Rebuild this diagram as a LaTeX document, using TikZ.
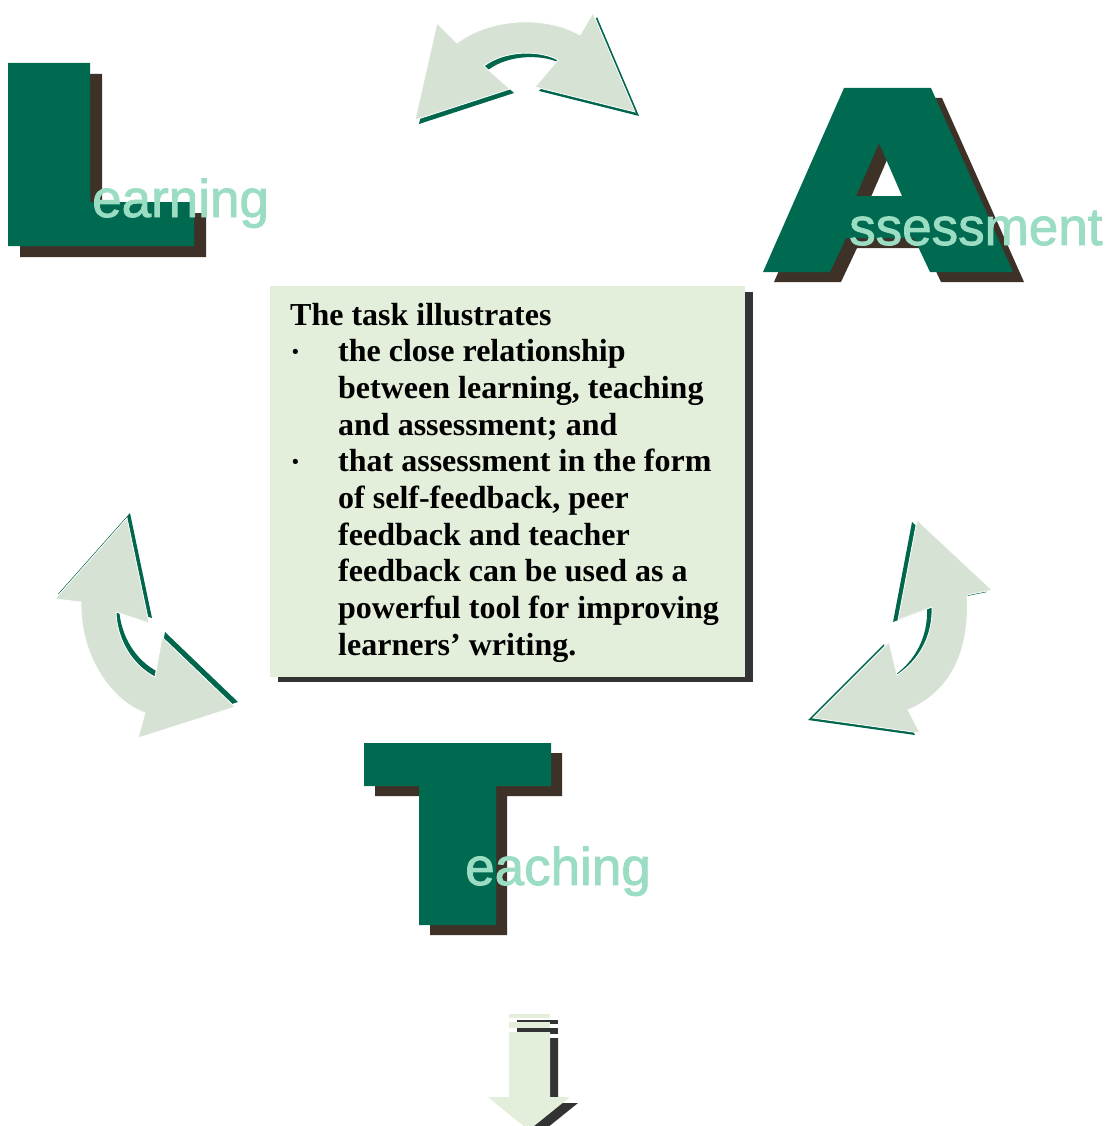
\documentclass[tikz,border=0pt]{standalone}
\usepackage{fontspec}
\newfontfamily\wordfont[FakeBold=1.6]{Liberation Sans}
\newfontfamily\notefont{Liberation Serif}
\definecolor{lgreen}{HTML}{006A50}
\definecolor{lshadow}{HTML}{3E3228}
\definecolor{mint}{HTML}{9BDDC3}
\definecolor{archfill}{HTML}{D6E2D4}
\definecolor{archedge}{HTML}{00664C}
\definecolor{boxfill}{HTML}{E3EEDB}
\definecolor{boxshadow}{HTML}{333333}

\begin{document}
\begin{tikzpicture}[x=1pt, y=-1pt,
  word/.style={anchor=base west, inner sep=0pt, text=mint,
               font=\wordfont\fontsize{53}{53}\selectfont},
  note/.style={anchor=base west, inner sep=0pt,
               font=\notefont\bfseries\fontsize{32}{36}\selectfont}]
  \useasboundingbox (0,0) rectangle (1107,1126);

  % Big letters with shadow
  \foreach \dx/\dy/\f in {12/11/lshadow, 0/0/lgreen}
    \fill[fill=\f, shift={(\dx,\dy)}] (8,63) -- (90,63) -- (90,202) -- (194,202)
      -- (194,246) -- (8,246) -- cycle;
  \foreach \dx/\dy/\f in {11/10/lshadow, 0/0/lgreen}
    \fill[fill=\f, even odd rule, shift={(\dx,\dy)}] (763,272) -- (844,88) -- (931,88)
      -- (1013,272) -- (930,272) -- (914,238) -- (846,238) -- (830,272) -- cycle
      (879,143) -- (902,196) -- (856,196) -- cycle;
  \foreach \dx/\dy/\f in {11/10/lshadow, 0/0/lgreen}
    \fill[fill=\f, shift={(\dx,\dy)}] (364,743) -- (551,743) -- (551,786) -- (496,786)
      -- (496,925) -- (419,925) -- (419,786) -- (364,786) -- cycle;

  % Words
  \node[word] (learnword) at (92,217) {earning};
  \node[word] (assessword) at (849,245) {ssessment};
  \node[word] (teachword) at (465,885) {eaching};

  % Curved arrows
  \foreach \dx/\dy/\f/\d in {4/4/archedge/none, 0/0/archfill/white}
    \path[fill=\f, draw=\d, line width=0.8pt, shift={(\dx,\dy)}]
      (415,120) -- (437,23) -- (457,43) .. controls (490,18) and (545,15) .. (580,35)
      -- (593,13) -- (635,112) -- (535,87) -- (558,60)
      .. controls (540,50) and (505,50) .. (484,66) -- (510,89) -- cycle;
  \foreach \dx/\dy/\f/\d in {3/-5/archedge/none, 0/0/archfill/white}
    \path[fill=\f, draw=\d, line width=0.8pt, shift={(\dx,\dy)}]
      (127,518) -- (149,623) -- (116,612) .. controls (117,640) and (132,665) .. (155,677)
      -- (162,637) -- (235,707) -- (138,738) -- (145,713)
      .. controls (110,700) and (80,655) .. (81,602) -- (55,599) -- cycle;
  \foreach \dx/\dy/\f/\d in {-5/2/archedge/none, 0/0/archfill/white}
    \path[fill=\f, draw=\d, line width=0.8pt, shift={(\dx,\dy)}]
      (917,520) -- (992,590) -- (967,595) .. controls (970,645) and (955,690) .. (908,710)
      -- (920,733) -- (813,718) -- (889,642) -- (897,675)
      .. controls (920,660) and (933,635) .. (932,607) -- (898,620) -- cycle;

  % Down arrow
  \foreach \dx/\dy/\f in {8/6/boxshadow, 0/0/boxfill} {
    \fill[fill=\f, shift={(\dx,\dy)}] (509,1014) rectangle (550,1018);
    \fill[fill=\f, shift={(\dx,\dy)}] (509,1022) rectangle (550,1028);
    \fill[fill=\f, shift={(\dx,\dy)}] (509,1032) -- (550,1032) -- (550,1097) -- (570,1097)
      -- (529,1130) -- (488,1097) -- (509,1097) -- cycle;
  }

  % Text box
  \fill[boxshadow] (278,292) rectangle (753,682);
  \fill[boxfill] (270,286) rectangle (745,677);
  \node[note] (taskhead) at (290,325) {The task illustrates};
  \node[note] (bullet1) at (290,362) {·};
  \node[note] (bullet2) at (290,472) {·};
  \foreach \t [count=\i from 1] in {the close relationship, {between learning, teaching},
      and assessment; and, that assessment in the form, {of self-feedback, peer},
      feedback and teacher, feedback can be used as a, powerful tool for improving,
      learners’ writing.}
    \node[note] (line\i) at (338,{325+36.7*\i}) {\t};
\end{tikzpicture}
\end{document}
